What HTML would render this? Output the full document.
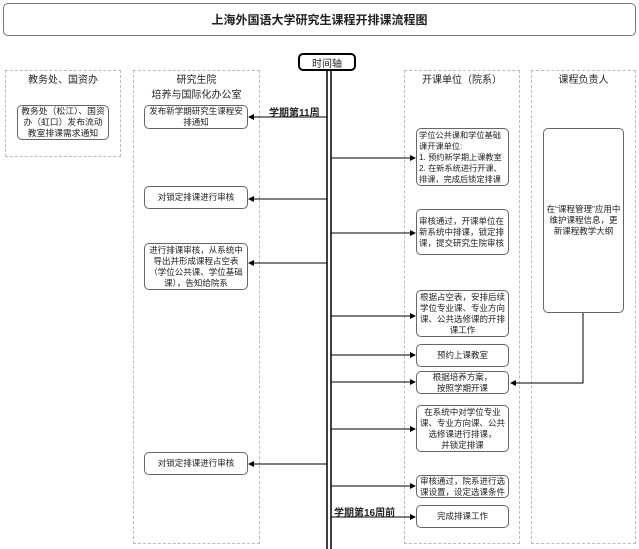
<!DOCTYPE html>
<html><head><meta charset="utf-8"><style>
*{margin:0;padding:0;box-sizing:border-box}
body{width:639px;height:549px;background:#fff;position:relative;overflow:hidden;font-family:"Liberation Sans","Noto Sans CJK SC",sans-serif;color:#222}
.a{position:absolute}
.lane{position:absolute;border:1px dashed #bbb}
.box{position:absolute;border:1px solid #666;border-radius:5px;background:#fff;display:flex;align-items:center;justify-content:center;text-align:center;font-size:8.5px;line-height:11px;padding:0 2px}
.h{position:absolute;font-size:10px;text-align:center;line-height:15px}
</style></head><body>
<div class="a" style="left:3px;top:3px;width:633px;height:33px;border:1px solid #777;border-radius:5px;display:flex;align-items:center;justify-content:center;font-weight:bold;font-size:12px">上海外国语大学研究生课程开排课流程图</div>

<div class="lane" style="left:5px;top:70px;width:116px;height:87px"></div>
<div class="lane" style="left:133px;top:70px;width:127px;height:474px"></div>
<div class="lane" style="left:404px;top:70px;width:116px;height:474px"></div>
<div class="lane" style="left:531px;top:70px;width:105px;height:474px"></div>

<div class="h" style="left:5px;top:73px;width:116px">教务处、国资办</div>
<div class="h" style="left:133px;top:73px;width:127px">研究生院<br>培养与国际化办公室</div>
<div class="h" style="left:404px;top:73px;width:116px">开课单位（院系）</div>
<div class="h" style="left:531px;top:73px;width:105px">课程负责人</div>

<svg class="a" style="left:0;top:0" width="639" height="549">
<defs><marker id="m" markerWidth="6" markerHeight="6" refX="5" refY="3" orient="auto"><path d="M0,0 L6,3 L0,6 z" fill="#000"/></marker></defs>
<line x1="327" y1="71" x2="327" y2="549" stroke="#000" stroke-width="1.5"/>
<line x1="331" y1="71" x2="331" y2="549" stroke="#000" stroke-width="1.5"/>
<g stroke="#000" stroke-width="1" marker-end="url(#m)">
<line x1="327" y1="117" x2="249" y2="117"/>
<line x1="331" y1="158" x2="415" y2="158"/>
<line x1="327" y1="199" x2="249" y2="199"/>
<line x1="331" y1="233" x2="415" y2="233"/>
<line x1="327" y1="263" x2="249" y2="263"/>
<line x1="331" y1="316" x2="415" y2="316"/>
<line x1="331" y1="355" x2="415" y2="355"/>
<line x1="331" y1="382" x2="415" y2="382"/>
<line x1="331" y1="429" x2="415" y2="429"/>
<line x1="327" y1="464" x2="249" y2="464"/>
<line x1="331" y1="486" x2="415" y2="486"/>
<line x1="331" y1="517" x2="415" y2="517"/>
<polyline points="583,313 583,383 511,383" fill="none"/>
</g>
</svg>

<div class="a" style="left:298px;top:53px;width:58px;height:18px;border:2px solid #000;border-radius:5px;background:#fff;font-size:10px;display:flex;align-items:center;justify-content:center">时间轴</div>
<div class="a" style="left:269px;top:104px;font-size:10px;font-weight:bold">学期第11周</div>
<div class="a" style="left:334px;top:504px;font-size:10px;font-weight:bold">学期第16周前</div>

<div class="box" style="left:17px;top:105px;width:92px;height:35px;font-size:8.8px">教务处（松江）、国资办（虹口）发布流动教室排课需求通知</div>
<div class="box" style="left:144px;top:105px;width:104px;height:24px">发布新学期研究生课程安排通知</div>
<div class="box" style="left:144px;top:186px;width:104px;height:23px">对锁定排课进行审核</div>
<div class="box" style="left:144px;top:243px;width:104px;height:47px">进行排课审核，从系统中导出并形成课程占空表（学位公共课、学位基础课），告知给院系</div>
<div class="box" style="left:144px;top:452px;width:104px;height:23px">对锁定排课进行审核</div>

<div class="box" style="left:416px;top:128px;width:93px;height:58px;text-align:left;justify-content:flex-start;white-space:nowrap;font-size:8.2px">学位公共课和学位基础<br>课开课单位:<br>1. 预约新学期上课教室<br>2. 在新系统进行开课、<br>排课，完成后锁定排课</div>
<div class="box" style="left:416px;top:209px;width:93px;height:46px;text-align:left">审核通过，开课单位在新系统中排课，锁定排课，提交研究生院审核</div>
<div class="box" style="left:416px;top:290px;width:93px;height:47px">根据占空表，安排后续学位专业课、专业方向课、公共选修课的开排课工作</div>
<div class="box" style="left:416px;top:344px;width:93px;height:23px">预约上课教室</div>
<div class="box" style="left:416px;top:371px;width:93px;height:23px">根据培养方案，<br>按照学期开课</div>
<div class="box" style="left:416px;top:405px;width:93px;height:47px">在系统中对学位专业课、专业方向课、公共选修课进行排课，<br>并锁定排课</div>
<div class="box" style="left:416px;top:475px;width:93px;height:23px">审核通过，院系进行选课设置，设定选课条件</div>
<div class="box" style="left:416px;top:505px;width:93px;height:23px">完成排课工作</div>

<div class="box" style="left:543px;top:128px;width:81px;height:185px">在“课程管理”应用中维护课程信息，更新课程教学大纲</div>
</body></html>
